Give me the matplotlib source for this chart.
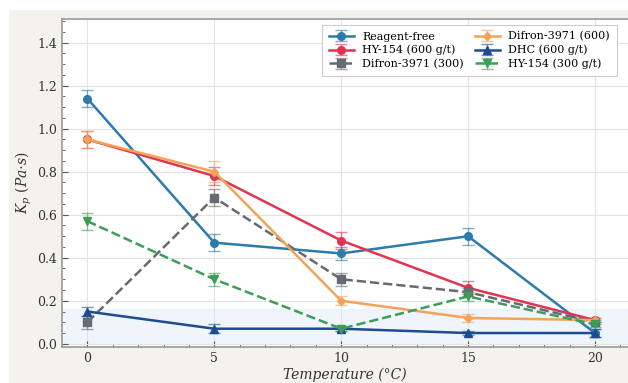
import numpy as np
import matplotlib
matplotlib.use("Agg")
import matplotlib.pyplot as plt
from matplotlib.patches import Rectangle
from matplotlib.ticker import AutoMinorLocator

plt.rcParams['font.family'] = ['DejaVu Serif']
plt.rcParams['mathtext.fontset'] = 'dejavuserif'

temperature = [0, 5, 10, 15, 20]

reagent_free = [1.14, 0.47, 0.42, 0.50, 0.05]
reagent_free_err = [0.04, 0.04, 0.03, 0.04, 0.02]

hy154_600 = [0.95, 0.78, 0.48, 0.26, 0.11]
hy154_600_err = [0.04, 0.04, 0.04, 0.03, 0.01]

difron_300 = [0.10, 0.68, 0.30, 0.24, 0.10]
difron_300_err = [0.03, 0.04, 0.03, 0.02, 0.01]

difron_600 = [0.95, 0.80, 0.20, 0.12, 0.11]
difron_600_err = [0.04, 0.05, 0.02, 0.02, 0.01]

dhc_600 = [0.15, 0.07, 0.07, 0.05, 0.05]
dhc_600_err = [0.02, 0.02, 0.01, 0.01, 0.02]

hy154_300 = [0.57, 0.30, 0.07, 0.22, 0.09]
hy154_300_err = [0.04, 0.03, 0.01, 0.02, 0.01]

series = [
  ("Reagent-free", reagent_free, reagent_free_err, '#2b7bab', 'o', '-'),
  ("HY-154 (600 g/t)", hy154_600, hy154_600_err, '#e0344f', 'o', '-'),
  ("Difron-3971 (300)", difron_300, difron_300_err, '#666a73', 's', '--'),
  ("Difron-3971 (600)", difron_600, difron_600_err, '#f4a259', 'D', '-'),
  ("DHC (600 g/t)", dhc_600, dhc_600_err, '#1f4b8f', '^', '-'),
  ("HY-154 (300 g/t)", hy154_300, hy154_300_err, '#3d9d58', 'v', '--'),
]

fig = plt.figure(figsize=(6.28, 3.83), dpi=100)
fig.patch.set_facecolor('white')
fig.patches.append(Rectangle((9/628., 0), 1, 1 - 10/383., transform=fig.transFigure,
                             facecolor='#f3f2ef', edgecolor='none', zorder=-10))

ax = fig.add_axes([62/628., 1 - 347/383., (628 - 62)/628., (347 - 19)/383.])
ax.set_facecolor('white')

# low-viscosity zone
ax.axhspan(0, 0.16, color='#e9f1fa', alpha=0.7, zorder=0)

for name, vals, err, col, mk, ls in series:
  ms = 4.5 if mk == 'D' else 5.5
  ax.errorbar(temperature, vals, yerr=err, color=col, marker=mk, markersize=ms,
              linestyle=ls, linewidth=1.8, capsize=4, elinewidth=1.0,
              ecolor=matplotlib.colors.to_rgba(col, 0.6), capthick=1.0,
              label=name, zorder=3)

ax.set_xlim(-1, 21.3)
ax.set_ylim(-0.015, 1.51)
ax.set_xticks([0, 5, 10, 15, 20])
ax.set_yticks([0.0, 0.2, 0.4, 0.6, 0.8, 1.0, 1.2, 1.4])
ax.xaxis.set_minor_locator(AutoMinorLocator(5))
ax.yaxis.set_minor_locator(AutoMinorLocator(4))
ax.tick_params(which='both', direction='in', colors='#555555', labelcolor='#333333', labelsize=9)
ax.tick_params(which='major', length=4)
ax.tick_params(which='minor', length=2)
ax.grid(True, which='major', color='#e3e3e3', linewidth=0.8, zorder=0)
ax.set_axisbelow(True)

for s in ['left', 'bottom', 'top']:
  ax.spines[s].set_color('#999999')
  ax.spines[s].set_linewidth(1.2)
ax.spines['right'].set_visible(False)

ax.set_xlabel("Temperature (°C)", style='italic', fontsize=10, color='#333333', labelpad=2)
ax.set_ylabel(r"$K_p$ $(Pa{\cdot}s)$", fontsize=10, color='#333333', labelpad=2)

leg = ax.legend(ncol=2, loc='upper right', bbox_to_anchor=(0.99, 1.0), fontsize=8,
                fancybox=False, framealpha=1, edgecolor='#cccccc',
                handlelength=2.2, columnspacing=1.0, labelspacing=0.3, borderpad=0.6)
leg.get_frame().set_linewidth(0.8)

plt.savefig('out.png', dpi=100, facecolor=fig.get_facecolor())
